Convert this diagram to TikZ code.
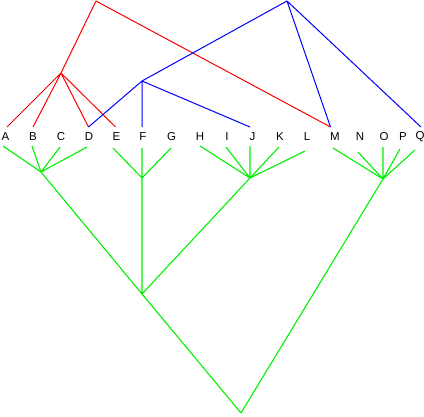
\documentclass[tikz,border=0pt]{standalone}
\usepackage{fontspec}
\setmainfont{Liberation Sans}
\begin{document}
\begin{tikzpicture}[x=1pt,y=-1pt,
  lbl/.style={inner sep=0pt,font=\fontsize{11.5}{12}\selectfont},
  redl/.style={draw={rgb,255:red,255;green,0;blue,0},line width=1pt},
  bluel/.style={draw={rgb,255:red,0;green,0;blue,255},line width=1pt},
  greenl/.style={draw={rgb,255:red,0;green,240;blue,0},line width=1.1pt}]
\useasboundingbox (0,0) rectangle (424,416);
% labels
\foreach \n/\x in {A/5.5,B/33,C/61,D/89,E/116.5,F/143,G/171.5,H/200,I/227,J/252.5,K/280,L/307,M/335,N/360,O/384,P/403,Q/420}
  \node[lbl] (\n) at (\x,136.5) {\n};
% top ends (red/blue)
\coordinate (At) at (7,127);
\coordinate (Bt) at (33,127);
\coordinate (Dt) at (88.5,127);
\coordinate (Et) at (115.5,127);
\coordinate (Ft) at (142,127);
\coordinate (Jt) at (250,127);
\coordinate (Mt) at (330.5,127);
\coordinate (Qt) at (421,127);
% bottom ends (green)
\coordinate (Ab) at (3,146);
\coordinate (Bb) at (32,146);
\coordinate (Cb) at (60,147);
\coordinate (Db) at (87,147);
\coordinate (Eb) at (113,148);
\coordinate (Fb) at (142,148);
\coordinate (Gb) at (171,148);
\coordinate (Hb) at (200,146);
\coordinate (Ib) at (226,147);
\coordinate (Jb) at (250,146);
\coordinate (Kb) at (279,147);
\coordinate (Lb) at (305,151);
\coordinate (Mb) at (333,148);
\coordinate (Nb) at (358,152);
\coordinate (Ob) at (383,147);
\coordinate (Pb) at (400,149);
\coordinate (Qb) at (415,150);
% internal points
\coordinate (r0) at (96,1);
\coordinate (r1) at (61,73);
\coordinate (b0) at (287,1);
\coordinate (b1) at (142,81);
\coordinate (g1) at (41,172);
\coordinate (g2) at (142,178);
\coordinate (g3) at (250,178);
\coordinate (g4) at (383,179);
\coordinate (g5) at (142,294);
\coordinate (g6) at (241,413);
% red tree
\path[redl] (r0) -- (r1) (r0) -- (Mt);
\path[redl] (r1) -- (At) (r1) -- (Bt) (r1) -- (Dt) (r1) -- (Et);
% blue tree
\path[bluel] (b0) -- (b1) (b0) -- (Mt) (b0) -- (Qt);
\path[bluel] (b1) -- (Dt) (b1) -- (Ft) (b1) -- (Jt);
% green tree
\path[greenl] (g1) -- (Ab) (g1) -- (Bb) (g1) -- (Cb) (g1) -- (Db);
\path[greenl] (g2) -- (Eb) (g2) -- (Fb) (g2) -- (Gb);
\path[greenl] (g3) -- (Hb) (g3) -- (Ib) (g3) -- (Jb) (g3) -- (Kb) (g3) -- (Lb);
\path[greenl] (g4) -- (Mb) (g4) -- (Nb) (g4) -- (Ob) (g4) -- (Pb) (g4) -- (Qb);
\path[greenl] (g5) -- (g1) (g5) -- (g2) (g5) -- (g3);
\path[greenl] (g6) -- (g5) (g6) -- (g4);
\end{tikzpicture}
\end{document}
